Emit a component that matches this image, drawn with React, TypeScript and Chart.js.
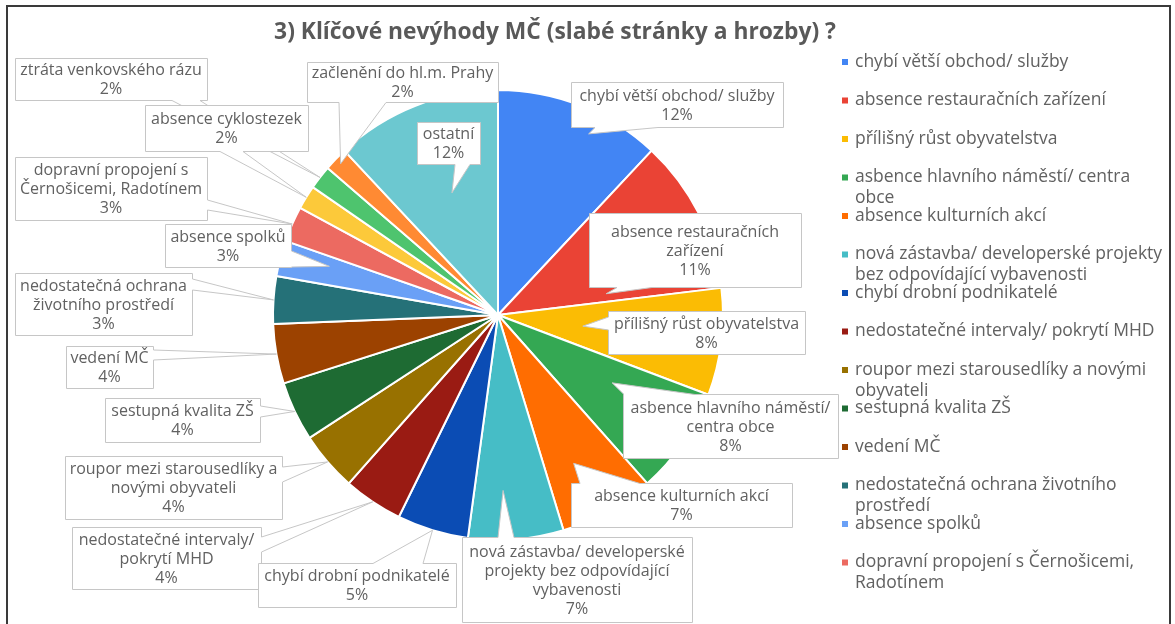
import React, { useEffect, useRef } from "react";
import { Chart, registerables } from "chart.js";

Chart.register(...registerables);

const titleText = "3) Klíčové nevýhody MČ (slabé stránky a hrozby) ?";

const categories = [
  "chybí větší obchod/ služby",
  "absence restauračních zařízení",
  "přílišný růst obyvatelstva",
  "asbence hlavního náměstí/ centra obce",
  "absence kulturních akcí",
  "nová zástavba/ developerské projekty bez odpovídající vybavenosti",
  "chybí drobní podnikatelé",
  "nedostatečné intervaly/ pokrytí MHD",
  "roupor mezi starousedlíky a novými obyvateli",
  "sestupná kvalita ZŠ",
  "vedení MČ",
  "nedostatečná ochrana životního prostředí",
  "absence spolků",
  "dopravní propojení s Černošicemi, Radotínem",
  "absence cyklostezek",
  "ztráta venkovského rázu",
  "začlenění do hl.m. Prahy",
  "ostatní",
];

const counts = [14, 13, 9, 9, 8, 8, 6, 5, 5, 5, 5, 4, 3, 3, 2, 2, 2, 14];

const colors = [
  "#4285F4", "#EA4335", "#FBBC04", "#34A853", "#FF6D01", "#46BDC6",
  "#0B4CB4", "#9A1B13", "#987100", "#1E6B33", "#9C4200", "#257178",
  "#6AA0F6", "#EC6A61", "#FCC93A", "#4EC46E", "#FF8A33", "#6CC8D0",
];

// number of legend entries visible (legend is paged in the original)
const legendCount = 14;

// callout layout: box [x, y, w, h]; tail edge + range on that edge; tip = fraction across slice angle (f) and radius (k)
type Tail = { edge: "top" | "bottom" | "left" | "right"; a: number; b: number; f: number; k: number };
const calloutBoxes: [number, number, number, number][] = [
  [571, 82, 212, 45],
  [589, 213, 212, 74],
  [608, 311, 197, 43],
  [623, 394, 215, 64],
  [571, 483, 221, 44],
  [462, 537, 230, 85],
  [258, 563, 198, 44],
  [72, 527, 189, 62],
  [65, 456, 217, 63],
  [105, 398, 155, 44],
  [66, 346, 87, 42],
  [15, 273, 177, 62],
  [165, 224, 126, 43],
  [15, 157, 192, 63],
  [145, 105, 163, 46],
  [15, 58, 192, 42],
  [307, 62, 191, 40],
  [417, 122, 63, 42],
];
const calloutTails: Tail[] = [
  { edge: "bottom", a: 595, b: 658, f: 0.617, k: 0.9 },
  { edge: "bottom", a: 617, b: 652, f: 0.895, k: 0.49 },
  { edge: "left", a: 317, b: 330, f: 0.52, k: 0.38 },
  { edge: "top", a: 624, b: 695, f: 0.36, k: 0.59 },
  { edge: "top", a: 580, b: 640, f: 0.59, k: 0.74 },
  { edge: "top", a: 498, b: 514, f: 0.62, k: 0.78 },
  { edge: "top", a: 373, b: 423, f: 0.5, k: 1.0 },
  { edge: "right", a: 537, b: 552, f: 0.5, k: 1.0 },
  { edge: "right", a: 467, b: 482, f: 0.5, k: 1.0 },
  { edge: "right", a: 406, b: 417, f: 0.5, k: 1.0 },
  { edge: "right", a: 350, b: 360, f: 0.5, k: 1.0 },
  { edge: "right", a: 279, b: 290, f: 0.5, k: 1.0 },
  { edge: "right", a: 251, b: 267, f: 0.66, k: 0.78 },
  { edge: "right", a: 200, b: 210, f: 0.5, k: 1.0 },
  { edge: "bottom", a: 220, b: 243, f: 0.5, k: 1.0 },
  { edge: "bottom", a: 172, b: 200, f: 0.5, k: 1.0 },
  { edge: "bottom", a: 339, b: 386, f: 0.5, k: 0.97 },
  { edge: "bottom", a: 455, b: 470, f: 0.52, k: 0.58 },
];

const FONT = "'Open Sans', Lato, sans-serif";
const TEXT_COLOR = "#616161";
const BOX_BORDER = "#c6c6c6";

function wrap(ctx: CanvasRenderingContext2D, text: string, maxW: number): string[] {
  const words = text.split(" ");
  const lines: string[] = [];
  let cur = "";
  for (const w of words) {
    const t = cur ? cur + " " + w : w;
    if (cur && ctx.measureText(t).width > maxW) {
      lines.push(cur);
      cur = w;
    } else cur = t;
  }
  if (cur) lines.push(cur);
  return lines;
}

const decorPlugin = {
  id: "decor",
  afterDraw(chart: any) {
    const ctx: CanvasRenderingContext2D = chart.ctx;
    const meta = chart.getDatasetMeta(0);
    const data: number[] = chart.data.datasets[0].data;
    const total = data.reduce((s, v) => s + v, 0);
    const labels: string[] = chart.data.labels;
    ctx.save();

    // callouts (drawn last-to-first so earlier ones sit on top)
    for (let i = labels.length - 1; i >= 0; i--) {
      const arc = meta.data[i];
      const p = arc.getProps(["x", "y", "startAngle", "endAngle", "outerRadius"], true);
      const t = calloutTails[i];
      const ang = p.startAngle + t.f * (p.endAngle - p.startAngle);
      const tx = p.x + t.k * p.outerRadius * Math.cos(ang);
      const ty = p.y + t.k * p.outerRadius * Math.sin(ang);
      const [bx0, by0, bw, bh] = calloutBoxes[i];
      const x0 = bx0 + 0.5, y0 = by0 + 0.5, x1 = bx0 + bw + 0.5, y1 = by0 + bh + 0.5;
      ctx.beginPath();
      ctx.moveTo(x0, y0);
      if (t.edge === "top") { ctx.lineTo(t.a, y0); ctx.lineTo(tx, ty); ctx.lineTo(t.b, y0); }
      ctx.lineTo(x1, y0);
      if (t.edge === "right") { ctx.lineTo(x1, t.a); ctx.lineTo(tx, ty); ctx.lineTo(x1, t.b); }
      ctx.lineTo(x1, y1);
      if (t.edge === "bottom") { ctx.lineTo(t.b, y1); ctx.lineTo(tx, ty); ctx.lineTo(t.a, y1); }
      ctx.lineTo(x0, y1);
      if (t.edge === "left") { ctx.lineTo(x0, t.b); ctx.lineTo(tx, ty); ctx.lineTo(x0, t.a); }
      ctx.closePath();
      ctx.fillStyle = "#ffffff";
      ctx.fill();
      ctx.lineWidth = 1;
      ctx.strokeStyle = BOX_BORDER;
      ctx.stroke();

      ctx.font = `16px ${FONT}`;
      ctx.fillStyle = TEXT_COLOR;
      ctx.textAlign = "center";
      ctx.textBaseline = "middle";
      const lines = wrap(ctx, labels[i], bw - 4);
      lines.push(Math.round((data[i] / total) * 100) + "%");
      const lh = 19;
      const cy = by0 + bh / 2 + 1 - ((lines.length - 1) * lh) / 2;
      lines.forEach((ln, j) => ctx.fillText(ln, bx0 + bw / 2, cy + j * lh));
    }

    // title
    ctx.font = `bold 22.8px ${FONT}`;
    ctx.fillStyle = "#595959";
    ctx.textAlign = "center";
    ctx.textBaseline = "middle";
    ctx.fillText(titleText, 555, 33);

    // legend
    ctx.font = `17.5px ${FONT}`;
    ctx.textAlign = "left";
    for (let i = 0; i < legendCount; i++) {
      const y = 62 + i * 38.5;
      ctx.fillStyle = colors[i];
      ctx.fillRect(842, y - 3, 6, 6);
      ctx.fillStyle = TEXT_COLOR;
      const lines = wrap(ctx, labels[i], 314);
      lines.forEach((ln, j) => ctx.fillText(ln, 855, y + j * 21));
    }

    // frame
    ctx.strokeStyle = "#3a3a3a";
    ctx.lineWidth = 2;
    ctx.strokeRect(7, 6, 1163, 640);
    ctx.restore();
  },
};

export default function App() {
  const ref = useRef<HTMLCanvasElement | null>(null);
  useEffect(() => {
    document.body.style.margin = "0";
    const chart = new Chart(ref.current!, {
      type: "pie",
      data: {
        labels: categories,
        datasets: [
          {
            data: counts,
            backgroundColor: colors,
            borderColor: "#ffffff",
            borderWidth: 2,
            radius: 225,
          } as any,
        ],
      },
      options: {
        animation: false,
        responsive: true,
        maintainAspectRatio: false,
        layout: { padding: { left: 272, top: 89, right: 451, bottom: 83 } },
        plugins: {
          legend: { display: false },
          title: { display: false },
          tooltip: { enabled: false },
        },
      },
      plugins: [decorPlugin],
    });
    return () => chart.destroy();
  }, []);
  return (
    <div style={{ position: "absolute", left: 0, top: 0, width: 1175, height: 624, background: "#fff" }}>
      <canvas ref={ref} />
    </div>
  );
}
